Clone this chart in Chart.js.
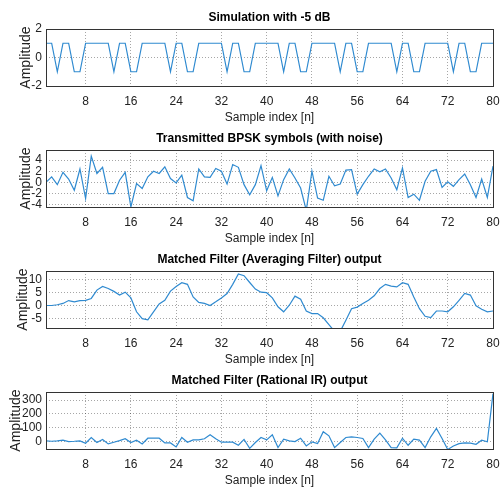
<!DOCTYPE html>
<html>
<head>
<meta charset="utf-8">
<script src="https://cdn.jsdelivr.net/npm/chart.js@4/dist/chart.umd.min.js"></script>
<style>
  body { margin: 0; background: #fff; width: 500px; height: 492px; position: relative; overflow: hidden; }
  .plot { position: absolute; left: 0; width: 500px; height: 130px; }
</style>
</head>
<body>
<div class="plot" style="top:0px"><canvas id="c1"></canvas></div>
<div class="plot" style="top:121px"><canvas id="c2"></canvas></div>
<div class="plot" style="top:242px"><canvas id="c3"></canvas></div>
<div class="plot" style="top:363px"><canvas id="c4"></canvas></div>
<script>
// sample index ticks shared by all four panels
const xTicks = [8, 16, 24, 32, 40, 48, 56, 64, 72, 80];

const titles = [
    'Simulation with -5 dB',
    'Transmitted BPSK symbols (with noise)',
    'Matched Filter (Averaging Filter) output',
    'Matched Filter (Rational IR) output'
];

// panel 1: clean BPSK symbols
const symbols = [
    1, 1, -1, 1, 1, -1, -1, 1, 1, 1,
    1, 1, -1, 1, 1, -1, -1, 1, 1, 1,
    1, 1, -1, 1, 1, -1, -1, 1, 1, 1,
    1, 1, -1, 1, 1, -1, -1, 1, 1, 1,
    1, 1, -1, 1, 1, -1, -1, 1, 1, 1,
    1, 1, -1, 1, 1, -1, -1, 1, 1, 1,
    1, 1, -1, 1, 1, -1, -1, 1, 1, 1,
    1, 1, -1, 1, 1, -1, -1, 1, 1, 1
];

// panel 2: symbols with noise
const noisy = [
    0, 1.0, -0.4, 1.8, 0.6, -1.4, 2.4, -2.9, 4.7, 1.6,
    2.7, -2.0, -2.0, 0.4, 1.8, -4.4, -0.2, -1.1, 1.0, 2.0,
    1.6, 2.8, 0.7, -0.1, 1.3, -2.7, -3.3, 2.4, 1.0, 0.9,
    2.5, 2.0, -0.3, 3.2, 2.7, -0.4, -2.2, -0.4, 3.0, -1.5,
    0.9, -2.4, 0.5, 2.4, 0.8, -1.0, -5.0, 2.0, -2.8, -3.2,
    1.1, -0.6, -0.3, 2.2, 2.3, -2.1, -0.4, 1.1, 2.4, 1.9,
    2.4, 0.8, -1.3, 2.6, -2.7, -2.1, -3.2, 0.2, 2.0, 2.3,
    -0.9, 0.1, -0.7, 0.5, 1.5, -0.4, -2.7, 0.6, -2.7, 2.9
];

// panel 3: averaging filter output
const averaged = [
    0, 0, 0.3, 0.8, 1.9, 1.4, 1.9, 2.0, 2.7, 5.9,
    7.3, 6.5, 5.4, 4.0, 5.1, 2.9, -2.4, -5.0, -5.5, -2.4,
    0.6, 2.0, 5.5, 7.3, 8.7, 8.1, 3.3, 1.2, 0.8, 0,
    1.4, 2.9, 4.6, 8.1, 12.1, 11.4, 8.8, 6.3, 5.1, 4.9,
    2.9, -0.5, -2.4, 0.1, 3.6, 2.4, -2.1, -3.1, -3.1, -4.7,
    -7.3, -9.9, -9.9, -5.6, -1.2, -0.6, 0.8, 2.0, 3.7, 6.5,
    8.1, 7.4, 7.1, 8.7, 8.1, 3.3, -1.2, -4.1, -4.6, -2.1,
    -2.1, -2.4, -0.5, 2.0, 4.6, 4.0, -0.1, -1.4, -2.4, -2.1
];

// panel 4: rational IR filter output
const rational = [
    5, 2, 5, 10, 0, 2, 5, -12, 29, -7,
    15, -17, -5, 7, 20, -7, 10, -17, 24, 24,
    24, -10, -10, -39, 29, -5, 12, 12, 20, 49,
    20, -5, -5, -5, -27, 15, -49, -7, 29, 12,
    49, -44, 17, 5, 0, 24, -32, -2, -15, 71,
    41, -44, -7, 29, 34, 29, 22, -44, 17, 61,
    12, -44, -46, 24, -27, 17, 10, -44, 34, 95,
    22, -58, -32, -15, -10, -12, -20, 10, -2, 346
];

const yTicks = [
    [-2, 0, 2],
    [-4, -2, 0, 2, 4],
    [-5, 0, 5, 10],
    [0, 100, 200, 300]
];
const yRanges = [[-2, 2], [-4.4, 5.8], [-8.6, 13.2], [-54, 358]];
const series = [symbols, noisy, averaged, rational];
// distance of the "Amplitude" label from the left edge, per panel
const yTitlePad = [17.5, 17.5, 14.5, 8];

const font = "'Liberation Sans', Arial, sans-serif";

const frame = {
    id: 'frame',
    afterDraw(chart) {
        const a = chart.chartArea, ctx = chart.ctx;
        ctx.save();
        ctx.strokeStyle = '#333';
        ctx.lineWidth = 1;
        ctx.strokeRect(Math.round(a.left) + 0.5, Math.round(a.top) + 0.5,
            Math.round(a.right - a.left), Math.round(a.bottom - a.top));
        ctx.restore();
    }
};

series.forEach(function (vals, k) {
    new Chart(document.getElementById('c' + (k + 1)), {
        type: 'line',
        data: {
            datasets: [{
                data: vals.map((v, i) => ({ x: i + 1, y: v })),
                borderColor: '#2f8ad0',
                borderWidth: 1.2,
                pointRadius: 0,
                tension: 0,
                fill: false
            }]
        },
        options: {
            responsive: true,
            maintainAspectRatio: false,
            animation: false,
            layout: { padding: { left: 0, right: 7, top: 0, bottom: 0 } },
            plugins: {
                legend: { display: false },
                tooltip: { enabled: false },
                title: {
                    display: true,
                    fullSize: false,
                    text: titles[k],
                    color: '#000',
                    font: { family: font, size: 12, weight: 'bold' },
                    padding: { top: 10, bottom: 4.6 }
                }
            },
            scales: {
                x: {
                    type: 'linear',
                    min: 1,
                    max: 80,
                    afterBuildTicks: s => { s.ticks = xTicks.map(v => ({ value: v })); },
                    afterFit: s => { s.height = 44; s.paddingLeft = 0; s.paddingRight = 0; },
                    grid: { color: 'rgba(0,0,0,0.35)', drawTicks: false, lineWidth: 1 },
                    border: { display: false, dash: [1, 2] },
                    ticks: { color: '#222', font: { family: font, size: 12 }, padding: 8, maxRotation: 0, autoSkip: false },
                    title: {
                        display: true,
                        text: 'Sample index [n]',
                        color: '#222',
                        font: { family: font, size: 12 },
                        padding: { top: 0, bottom: 5 }
                    }
                },
                y: {
                    min: yRanges[k][0],
                    max: yRanges[k][1],
                    afterBuildTicks: s => { s.ticks = yTicks[k].map(v => ({ value: v })); },
                    afterFit: s => { s.width = 46; },
                    grid: { color: 'rgba(0,0,0,0.35)', drawTicks: false, lineWidth: 1 },
                    border: { display: false, dash: [1, 2] },
                    ticks: { color: '#222', font: { family: font, size: 12 }, padding: 4, autoSkip: false },
                    title: {
                        display: true,
                        text: 'Amplitude',
                        color: '#222',
                        font: { family: font, size: 14 },
                        padding: { top: yTitlePad[k], bottom: 0 }
                    }
                }
            }
        },
        plugins: [frame]
    });
});
</script>
</body>
</html>
